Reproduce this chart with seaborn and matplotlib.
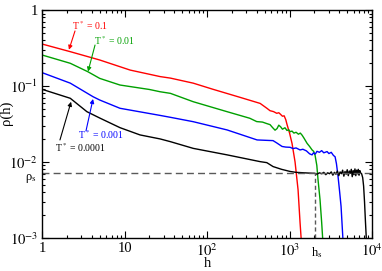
import matplotlib
matplotlib.use("Agg")
import matplotlib.pyplot as plt
import matplotlib.transforms as mtransforms
from matplotlib.ticker import FixedLocator, FixedFormatter, LogLocator, NullFormatter
import seaborn as sns

# Data (rho(h) vs h, log-log)
red_h = [1, 2.2, 5, 11.7, 27, 36, 68, 118, 250, 440, 530, 580, 640, 700, 740, 770, 820, 860, 900,
         933, 1000, 1072, 1166, 1268, 1340, 1400]
red_rho = [0.357, 0.283, 0.22, 0.162, 0.133, 0.127, 0.109, 0.0905, 0.071, 0.059, 0.051, 0.0473, 0.046,
           0.0437, 0.0445, 0.0428, 0.040, 0.0405, 0.036, 0.031, 0.024, 0.0175, 0.0100, 0.0043, 0.0016, 0.0008]

green_h = [1, 2.2, 3.6, 5, 8.8, 20, 27, 36, 68, 175, 330, 400, 470, 530, 580, 620, 667, 705, 740, 780,
           820, 880, 930, 980, 1015, 1070, 1130, 1200, 1280, 1350, 1420, 1500, 1630, 1750, 1875, 1960,
           2040, 2140, 2215, 2340, 2450, 2550]
green_rho = [0.256, 0.199, 0.154, 0.126, 0.103, 0.09, 0.084, 0.080, 0.0621, 0.0459, 0.0376, 0.034,
             0.0335, 0.032, 0.031, 0.0285, 0.0262, 0.0275, 0.0305, 0.029, 0.027, 0.0282, 0.026, 0.0265,
             0.025, 0.0255, 0.024, 0.0246, 0.0232, 0.0240, 0.0225, 0.0205, 0.0176, 0.016, 0.0144, 0.0138,
             0.0122, 0.009, 0.0058, 0.0032, 0.0016, 0.0008]

blue_h = [1, 2.2, 4.15, 5, 8.8, 27, 36, 68, 175, 404, 500, 631, 700, 811, 900, 1015, 1100, 1200, 1340,
          1450, 1600, 1750, 1875, 1950, 2050, 2150, 2300, 2450, 2600, 2850, 3000, 3200, 3400, 3563,
          3700, 3873, 4050, 4210, 4450]
blue_rho = [0.15, 0.109, 0.0723, 0.0654, 0.0509, 0.041, 0.0387, 0.0339, 0.0264, 0.0195, 0.0193, 0.0191,
            0.0178, 0.016, 0.0157, 0.0156, 0.0150, 0.0153, 0.0144, 0.0147, 0.0140, 0.0128, 0.0124, 0.0132,
            0.0127, 0.0138, 0.0134, 0.0141, 0.0132, 0.0137, 0.0129, 0.0134, 0.0122, 0.0117, 0.0095,
            0.0064, 0.0040, 0.0026, 0.0009]

black_h = [1, 2.2, 3.5, 5, 8.8, 15.4, 27, 36, 68, 175, 440, 530, 631, 800, 1015, 1200, 1500, 1900,
           2000, 2150, 2300, 2450, 2600, 2750, 2900, 3050, 3200, 3350, 3500, 3650, 3800, 3950, 4100,
           4250, 4400, 4550, 4700, 4850, 5000, 5150, 5300, 5450, 5600, 5750, 5900, 6050, 6200, 6350,
           6500, 6650, 6800, 6950, 7100, 7250, 7470, 7700, 7900, 8100, 8300, 8550]
black_rho = [0.0905, 0.0689, 0.0459, 0.0379, 0.0283, 0.0227, 0.0201, 0.0185, 0.0151, 0.0124, 0.0101,
             0.0098, 0.0087, 0.0080, 0.0075, 0.0073, 0.0072, 0.0071,
             0.0071, 0.0069, 0.0072, 0.0070, 0.0073, 0.0068, 0.0072, 0.0070, 0.0074, 0.0067, 0.0073,
             0.0069, 0.0076, 0.0066, 0.0074, 0.0070, 0.0078, 0.0065, 0.0075, 0.0069, 0.0079, 0.0066,
             0.0076, 0.0071, 0.0080, 0.0064, 0.0077, 0.0068, 0.0081, 0.0066, 0.0078, 0.0070, 0.0080,
             0.0067, 0.0077, 0.0072, 0.0070, 0.0062, 0.0048, 0.0030, 0.0017, 0.0009]

rho_s = 0.0071
h_s = 2040

x_ticks = [1, 10, 100, 1000, 10000]
x_labels = ['1', '10', '$10^{2}$', '$10^{3}$', '$10^{4}$']
y_ticks = [0.001, 0.01, 0.1, 1]
y_labels = ['$10^{-3}$', '$10^{-2}$', '$10^{-1}$', '1']

plt.rcParams['font.family'] = ['Liberation Serif', 'DejaVu Serif']
plt.rcParams['mathtext.fontset'] = 'stix'

fig = plt.figure(figsize=(3.82, 2.71), dpi=100)
ax = fig.add_axes([0.110, 0.122, 0.864, 0.841])

sns.lineplot(x=red_h, y=red_rho, color='#ff0000', linewidth=1.0, sort=False, estimator=None, ax=ax)
sns.lineplot(x=green_h, y=green_rho, color='#00a000', linewidth=1.0, sort=False, estimator=None, ax=ax)
sns.lineplot(x=blue_h, y=blue_rho, color='#0000ff', linewidth=1.0, sort=False, estimator=None, ax=ax)
sns.lineplot(x=black_h, y=black_rho, color='black', linewidth=1.0, sort=False, estimator=None, ax=ax)

# rho_s and h_s guides
ax.plot([1, 10000], [rho_s, rho_s], color='0.35', lw=1.0, ls=(0, (5, 3)))
ax.plot([h_s, h_s], [0.001, rho_s], color='0.35', lw=1.0, ls=(0, (3, 2)))

ax.set_xscale('log')
ax.set_yscale('log')
ax.set_xlim(1, 10000)
ax.set_ylim(0.001, 1)

ax.xaxis.set_major_locator(FixedLocator(x_ticks))
ax.xaxis.set_major_formatter(FixedFormatter(x_labels))
ax.yaxis.set_major_locator(FixedLocator(y_ticks))
ax.yaxis.set_major_formatter(FixedFormatter(y_labels))
ax.xaxis.set_minor_locator(LogLocator(base=10, subs=range(2, 10), numticks=20))
ax.yaxis.set_minor_locator(LogLocator(base=10, subs=range(2, 10), numticks=20))
ax.xaxis.set_minor_formatter(NullFormatter())
ax.yaxis.set_minor_formatter(NullFormatter())

ax.tick_params(which='both', direction='in', top=True, right=True, labelsize=10.5, width=0.8)
ax.tick_params(which='major', length=5, pad=3)
ax.tick_params(which='minor', length=2.5)
for s in ax.spines.values():
    s.set_linewidth(1.0)

ax.set_xlabel('h', fontsize=10.5, labelpad=-1)
ax.set_ylabel('\u03c1(h)', fontsize=10.5, labelpad=1)
ax.yaxis.set_label_coords(-0.088, 0.55)

# extra axis labels for rho_s and h_s
ty = mtransforms.blended_transform_factory(ax.transAxes, ax.transData)
ax.text(-0.018, rho_s * 0.86, '\u03c1$_\\mathrm{s}$', transform=ty, ha='right', va='center', fontsize=9)
tx = mtransforms.blended_transform_factory(ax.transData, ax.transAxes)
ax.text(h_s * 1.05, -0.03, 'h$_\\mathrm{s}$', transform=tx, ha='center', va='top', fontsize=9)

# labels with arrows
def label(text, color, pos, tail, head):
    ax.text(pos[0], pos[1], text, color=color, fontsize=7, ha='left', va='center')
    ax.annotate('', xy=head, xytext=tail,
                arrowprops=dict(arrowstyle='-|>', color=color, lw=0.8, mutation_scale=6,
                                shrinkA=0, shrinkB=0))

label('T$^*$ = 0.1', '#ff0000', (2.31, 0.62), (2.51, 0.53), (2.12, 0.30))
label('T$^*$ = 0.01', '#00a000', (4.27, 0.40), (4.39, 0.346), (3.61, 0.155))
label('T$^*$ = 0.001', '#0000ff', (2.73, 0.0227), (3.41, 0.0256), (4.15, 0.0675))
label('T$^*$ = 0.0001', 'black', (1.44, 0.0153), (1.65, 0.0195), (2.25, 0.062))

fig.savefig('out.png', dpi=100)
